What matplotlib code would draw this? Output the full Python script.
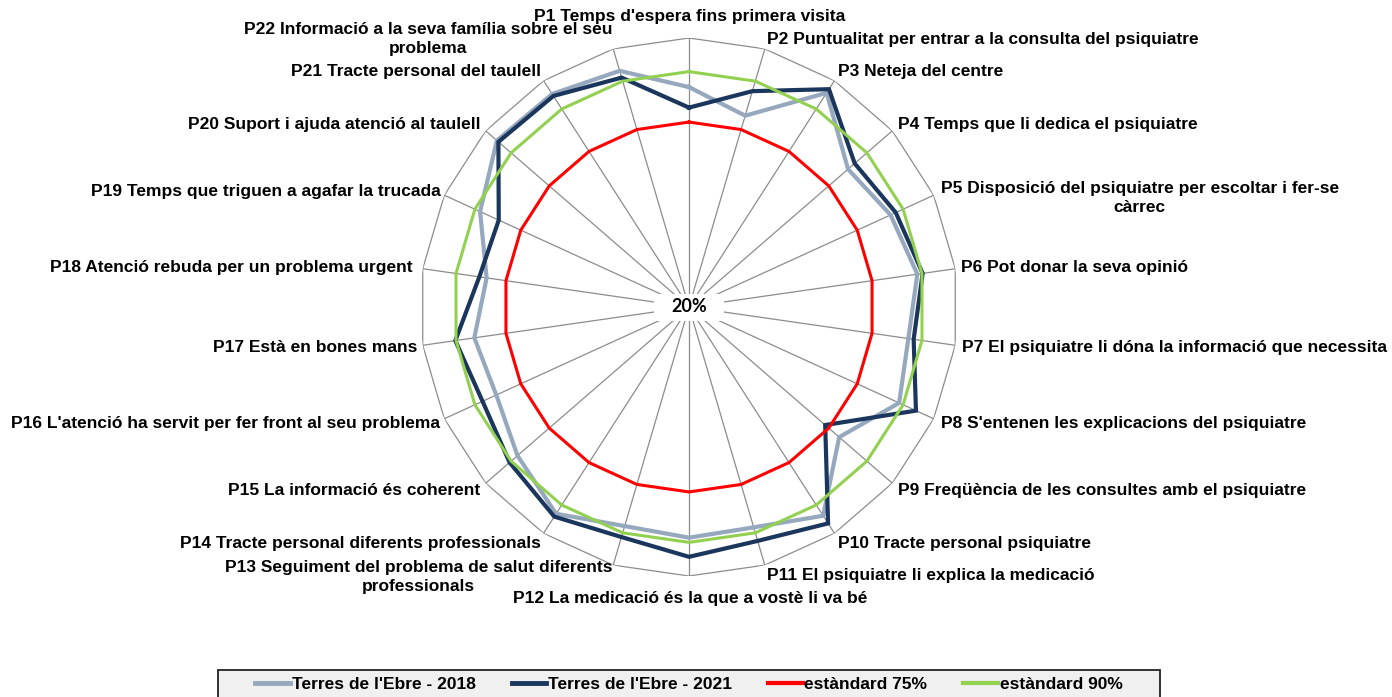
import numpy as np
import matplotlib
matplotlib.use('Agg')
import matplotlib.pyplot as plt
from matplotlib.patches import Rectangle

categories = [
    "P1 Temps d'espera fins primera visita",
    "P2 Puntualitat per entrar a la consulta del psiquiatre",
    "P3 Neteja del centre",
    "P4 Temps que li dedica el psiquiatre",
    "P5 Disposició del psiquiatre per escoltar i fer-se\ncàrrec",
    "P6 Pot donar la seva opinió",
    "P7 El psiquiatre li dóna la informació que necessita",
    "P8 S'entenen les explicacions del psiquiatre",
    "P9 Freqüència de les consultes amb el psiquiatre",
    "P10 Tracte personal psiquiatre",
    "P11 El psiquiatre li explica la medicació",
    "P12 La medicació és la que a vostè li va bé",
    "P13 Seguiment del problema de salut diferents\nprofessionals",
    "P14 Tracte personal diferents professionals",
    "P15 La informació és coherent",
    "P16 L'atenció ha servit per fer front al seu problema",
    "P17 Està en bones mans",
    "P18 Atenció rebuda per un problema urgent",
    "P19 Temps que triguen a agafar la trucada",
    "P20 Suport i ajuda atenció al taulell",
    "P21 Tracte personal del taulell",
    "P22 Informació a la seva família sobre el seu\nproblema",
]

series_names = ["Terres de l'Ebre - 2018", "Terres de l'Ebre - 2021",
                "estàndard 75%", "estàndard 90%"]

values_2018 = [85.4, 79.3, 95.7, 82.6, 85.9, 88.6, 85.9, 88.7, 79.1, 93.8, 88.3,
               88.6, 87.9, 93.1, 87.5, 83.0, 84.5, 80.8, 88.3, 95.6, 95.3, 93.2]
values_2021 = [79.3, 86.9, 97.0, 85.2, 87.6, 90.2, 87.5, 94.2, 73.6, 96.5, 92.5,
               94.3, 91.3, 94.1, 90.6, 87.5, 90.2, 83.0, 82.2, 95.0, 94.6, 91.1]
standard_75 = [75] * 22
standard_90 = [90] * 22

r_min, r_max = 20, 100
center_label = "20%"

colors = ['#95A8BE', '#1B365D', '#FF0000', '#92D050']
widths = [3.0, 3.0, 2.2, 2.2]

FONT = 'Liberation Sans'
FS = 12.5

fig = plt.figure(figsize=(13.92, 6.97), dpi=100)
W, H = 1392, 697
cx, cy, R = 689, 307, 269
ax = fig.add_axes([(cx - R) / W, (H - cy - R) / H, 2 * R / W, 2 * R / H],
                  projection='polar')
ax.set_theta_zero_location('N')
ax.set_theta_direction(-1)
ax.set_ylim(r_min, r_max)
ax.grid(False)
ax.spines['polar'].set_visible(False)
ax.set_xticks([])
ax.set_yticks([])
ax.patch.set_visible(False)

n = len(categories)
theta = np.arange(n) * 2 * np.pi / n
tc = np.append(theta, theta[0])

# grid: outer polygon and spokes
ax.plot(tc, [r_max] * (n + 1), color='#8C8C8C', lw=0.9, zorder=1)
for t in theta:
    ax.plot([t, t], [r_min, r_max], color='#8C8C8C', lw=0.9, zorder=1)

all_series = [values_2018, values_2021, standard_75, standard_90]
handles = []
for name, vals, c, lw in zip(series_names, all_series, colors, widths):
    v = np.append(vals, vals[0])
    h, = ax.plot(tc, v, color=c, lw=lw, label=name, zorder=3,
                 solid_joinstyle='miter')
    handles.append(h)

# white box behind the centre label
ax.add_patch(Rectangle((0.5 - 35 / 538, 0.5 - 13.5 / 538), 70 / 538, 27 / 538,
                       transform=ax.transAxes, facecolor='white',
                       edgecolor='none', zorder=4))
ax.text(0, r_min, center_label, ha='center', va='center', fontsize=13,
        fontweight='bold', family='Lato', zorder=5)

# label offsets (pixels) and alignment
offsets = [
    (1, 21, 'center'), (2, 9, 'left'), (4, 9, 'left'), (6, 6, 'left'),
    (7, -3, 'left'), (6, 1, 'left'), (7, -2, 'left'), (7, -5, 'left'),
    (6, -7, 'left'), (4, -10, 'left'), (2, -10, 'left'), (1, -22, 'center'),
    (-1, -12, 'right'), (-3, -10, 'right'), (-5, -7, 'right'), (-4, -5, 'right'),
    (-5, -2, 'right'), (-10, 1, 'right'), (-4, 4, 'right'), (-5, 6, 'right'),
    (-3, 9, 'right'), (-1, 10, 'right'),
]
for t, lab, (dx, dy, ha) in zip(theta, categories, offsets):
    ax.annotate(lab, xy=(t, r_max), xytext=(dx, dy), textcoords='offset pixels',
                ha=ha, va='center', multialignment='center', fontsize=FS,
                fontweight='bold', family=FONT, annotation_clip=False,
                linespacing=1.3)

# legend frame
fig.add_artist(Rectangle((218 / W, -0.02), (1160 - 218) / W, (H - 670) / H + 0.02,
                         transform=fig.transFigure, facecolor='#F0F0F0',
                         edgecolor='#222222', lw=1.3, zorder=0))
leg = fig.legend(handles=handles, labels=series_names, loc='center',
                 bbox_to_anchor=(0.495, 1 - 684 / H), ncol=4, frameon=False,
                 handlelength=2.0, handletextpad=0.1, columnspacing=2.07,
                 prop={'family': FONT, 'weight': 'bold', 'size': FS})
for lh, lw in zip(leg.get_lines(), [3.5, 3.5, 3.0, 3.0]):
    lh.set_linewidth(lw)

fig.savefig('out.png', dpi=100)
